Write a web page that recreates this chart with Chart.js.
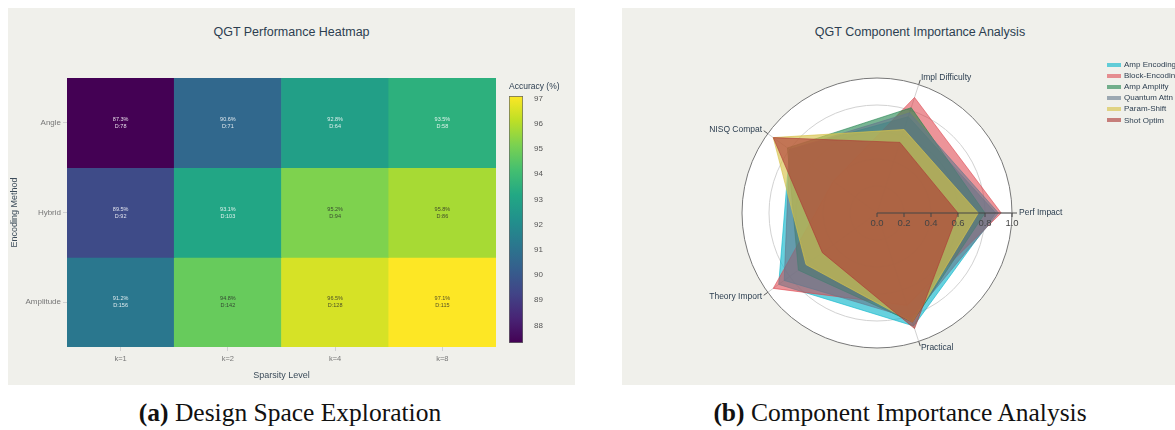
<!DOCTYPE html>
<html>
<head>
<meta charset="utf-8">
<script src="https://cdn.jsdelivr.net/npm/chart.js@4.4.0/dist/chart.umd.min.js"></script>
<style>
  html, body { margin: 0; padding: 0; background: #fff; overflow: hidden; }
  body { width: 1175px; height: 430px; position: relative; font-family: "Liberation Sans", Arial, sans-serif; }
  .panel { position: absolute; background: #f0f0eb; }
  #left { left: 8px; top: 8px; width: 567px; height: 377px; }
  #right { left: 622px; top: 8px; width: 596px; height: 377px; }
  canvas { position: absolute; }
  .ptitle { position: absolute; left: 0; right: 0; top: 16px; line-height: 16px; text-align: center; font-size: 12.5px; color: #2c3e50; white-space: nowrap; }
  .caption { position: absolute; top: 399px; line-height: 28px; font-family: "Liberation Serif", serif; font-size: 25.5px; color: #111; text-align: center; white-space: nowrap; }
  #legend { position: absolute; left: 485px; top: 51px; font-size: 8px; color: #2c3e50; }
  #legend .row { height: 11.1px; display: flex; align-items: center; white-space: nowrap; }
  #legend .sw { display: inline-block; width: 14px; height: 4px; margin-right: 3px; }
</style>
</head>
<body>
<div class="panel" id="left">
  <div class="ptitle">QGT Performance Heatmap</div>
  <canvas id="heatmap" width="567" height="377" style="left:0;top:0"></canvas>
  <canvas id="colorbar" width="70" height="275" style="left:497px;top:70px"></canvas>
</div>
<div class="panel" id="right">
  <div class="ptitle">QGT Component Importance Analysis</div>
  <canvas id="radar" width="596" height="377" style="left:0;top:0"></canvas>
  <div id="legend"></div>
</div>
<div class="caption" style="left:0;width:580px"><b>(a)</b> Design Space Exploration</div>
<div class="caption" style="left:600px;width:600px"><b>(b)</b> Component Importance Analysis</div>

<script>
// ---------- heatmap data ----------
const sparsity = ['k=1', 'k=2', 'k=4', 'k=8'];
const encodings = ['Angle', 'Hybrid', 'Amplitude'];
const accAngle = [87.3, 90.6, 92.8, 93.5];
const accHybrid = [89.5, 93.1, 95.2, 95.8];
const accAmplitude = [91.2, 94.8, 96.5, 97.1];
const depthAngle = [78, 71, 64, 58];
const depthHybrid = [92, 103, 94, 86];
const depthAmplitude = [156, 142, 128, 115];
const colorbarTicks = [88, 89, 90, 91, 92, 93, 94, 95, 96, 97];

// ---------- radar data ----------
const radarAxes = ['Perf Impact', 'Impl Difficulty', 'NISQ Compat', 'Theory Import', 'Practical'];
const seriesNames = ['Amp Encoding', 'Block-Encoding', 'Amp Amplify', 'Quantum Attn', 'Param-Shift', 'Shot Optim'];
const ampEncoding = [0.88, 0.75, 0.80, 0.90, 0.88];
const blockEncoding = [0.92, 0.90, 0.40, 0.95, 0.72];
const ampAmplify = [0.80, 0.82, 0.82, 0.72, 0.85];
const quantumAttn = [0.90, 0.78, 0.80, 0.85, 0.82];
const paramShift = [0.75, 0.65, 0.95, 0.65, 0.85];
const shotOptim = [0.60, 0.55, 0.95, 0.50, 0.90];
const radarTicks = [0, 0.2, 0.4, 0.6, 0.8, 1.0];

const seriesFill = [
  'rgba(20,185,205,0.65)',
  'rgba(220,60,70,0.55)',
  'rgba(30,130,75,0.6)',
  'rgba(100,120,140,0.6)',
  'rgba(215,195,75,0.65)',
  'rgba(173,56,54,0.62)'
];

const FONT = '"Liberation Sans", Arial, sans-serif';
Chart.defaults.font.family = FONT;
Chart.defaults.animation = false;

// viridis colormap
const viridisStops = ['#440154', '#482475', '#414487', '#355f8d', '#2a788e', '#21918c',
  '#22a884', '#44bf70', '#7ad151', '#bddf26', '#fde725'];
function hexRgb(h) { return [1, 3, 5].map(i => parseInt(h.substr(i, 2), 16)); }
function viridis(t) {
  t = Math.max(0, Math.min(1, t));
  const p = t * (viridisStops.length - 1);
  const i = Math.min(Math.floor(p), viridisStops.length - 2);
  const f = p - i;
  const a = hexRgb(viridisStops[i]), b = hexRgb(viridisStops[i + 1]);
  const c = a.map((v, k) => Math.round(v + (b[k] - v) * f));
  return `rgb(${c[0]},${c[1]},${c[2]})`;
}

const allAcc = accAngle.concat(accHybrid, accAmplitude);
const accMin = Math.min(...allAcc);
const accMax = Math.max(...allAcc);
const cellColor = v => viridis((v - accMin) / (accMax - accMin));

function rowDataset(label, acc, depth, row) {
  return {
    label: label,
    data: acc.map(() => [row, row + 1]),
    backgroundColor: acc.map(cellColor),
    borderWidth: 0,
    barPercentage: 1,
    categoryPercentage: 1,
    grouped: false,
    acc: acc,
    depth: depth
  };
}

// text inside each heatmap cell
const cellText = {
  id: 'cellText',
  afterDatasetsDraw(chart) {
    const ctx = chart.ctx;
    ctx.save();
    ctx.font = '5.5px ' + FONT;
    ctx.textAlign = 'center';
    ctx.textBaseline = 'middle';
    chart.data.datasets.forEach((ds, di) => {
      chart.getDatasetMeta(di).data.forEach((bar, j) => {
        const v = ds.acc[j];
        const y = (bar.y + bar.base) / 2;
        ctx.fillStyle = v < 94 ? 'rgba(255,255,255,0.85)' : 'rgba(40,40,40,0.8)';
        ctx.fillText(v.toFixed(1) + '%', bar.x, y - 3.5);
        ctx.fillText('D:' + ds.depth[j], bar.x, y + 3.5);
      });
    });
    ctx.restore();
  }
};

new Chart(document.getElementById('heatmap'), {
  type: 'bar',
  data: {
    labels: sparsity,
    datasets: [
      rowDataset('Angle', accAngle, depthAngle, 2),
      rowDataset('Hybrid', accHybrid, depthHybrid, 1),
      rowDataset('Amplitude', accAmplitude, depthAmplitude, 0)
    ]
  },
  options: {
    responsive: false,
    layout: { padding: { left: 0, right: 79, top: 70, bottom: 0 } },
    plugins: {
      legend: { display: false },
      tooltip: { enabled: false }
    },
    scales: {
      x: {
        offset: true,
        grid: { display: true, offset: false, drawOnChartArea: false, tickLength: 4, color: '#d0d0d0' },
        border: { display: false },
        ticks: { color: '#777', font: { size: 7.5 }, padding: 3 },
        title: { display: true, text: 'Sparsity Level', color: '#3c4c5a', font: { size: 9 }, padding: { top: 0, bottom: 4 } },
        afterFit: s => { s.height = 38; }
      },
      y: {
        min: 0, max: 3,
        afterBuildTicks: s => { s.ticks = encodings.map((_, i) => ({ value: encodings.length - i - 0.5 })); },
        grid: { display: true, drawOnChartArea: false, tickLength: 4, color: '#d0d0d0' },
        border: { display: false },
        ticks: {
          color: '#777', font: { size: 8 }, padding: 2,
          callback: v => encodings[encodings.length - 1 - Math.floor(v)]
        },
        title: { display: true, text: 'Encoding Method', color: '#3c4c5a', font: { size: 9 }, padding: { top: 1, bottom: 0 } },
        afterFit: s => { s.width = 59; }
      }
    }
  },
  plugins: [cellText]
});

// colorbar
new Chart(document.getElementById('colorbar'), {
  type: 'bar',
  data: {
    labels: [''],
    datasets: [{
      data: [[accMin, accMax]],
      backgroundColor: ctx => {
        const area = ctx.chart.chartArea;
        if (!area) return '#888';
        const g = ctx.chart.ctx.createLinearGradient(0, area.bottom, 0, area.top);
        viridisStops.forEach((c, i) => g.addColorStop(i / (viridisStops.length - 1), c));
        return g;
      },
      borderColor: '#666',
      borderWidth: 1,
      borderSkipped: false,
      barPercentage: 1,
      categoryPercentage: 1
    }]
  },
  options: {
    responsive: false,
    layout: { padding: { left: 4, right: 0, top: 0, bottom: 10 } },
    plugins: {
      legend: { display: false },
      tooltip: { enabled: false },
      title: {
        display: true, text: 'Accuracy (%)', align: 'start', color: '#2c3e50',
        font: { size: 8.5, weight: 'normal' }, padding: { top: 4, bottom: 3.8 }
      }
    },
    scales: {
      x: { display: false },
      y: {
        position: 'right', min: accMin, max: accMax,
        afterBuildTicks: s => { s.ticks = colorbarTicks.map(v => ({ value: v })); },
        grid: { display: false },
        border: { display: false },
        ticks: { color: '#555', font: { size: 8 }, padding: 3 },
        afterFit: s => { s.width = 52; }
      }
    }
  }
});

// ---------- radar ----------
// plotly-style layout: counter-clockwise from the right, chart.js goes clockwise
const order = [0, 4, 3, 2, 1];
const radarValues = [ampEncoding, blockEncoding, ampAmplify, quantumAttn, paramShift, shotOptim];

const radarDecor = {
  id: 'radarDecor',
  afterDatasetsDraw(chart) {
    const ctx = chart.ctx;
    const r = chart.scales.r;
    const R = r.drawingArea;
    ctx.save();
    // outer ticks + labels
    ctx.strokeStyle = '#555';
    ctx.lineWidth = 1;
    ctx.fillStyle = '#2c3e50';
    ctx.font = '8.5px ' + FONT;
    ctx.textBaseline = 'middle';
    chart.data.labels.forEach((lab, i) => {
      const a = r.getPointPosition(i, R);
      const b = r.getPointPosition(i, R + 5);
      ctx.beginPath(); ctx.moveTo(a.x, a.y); ctx.lineTo(b.x, b.y); ctx.stroke();
      const p = r.getPointPosition(i, R + 7);
      const dx = p.x - r.xCenter;
      ctx.textAlign = dx > 5 ? 'left' : (dx < -5 ? 'right' : 'center');
      ctx.fillText(lab, p.x, p.y);
    });
    // radial axis along the first spoke
    const y0 = r.yCenter;
    ctx.strokeStyle = '#444';
    ctx.beginPath(); ctx.moveTo(r.xCenter, y0); ctx.lineTo(r.xCenter + R, y0); ctx.stroke();
    ctx.fillStyle = '#444';
    ctx.font = '9.5px ' + FONT;
    ctx.textAlign = 'center';
    ctx.textBaseline = 'top';
    radarTicks.forEach(v => {
      const x = r.xCenter + r.getDistanceFromCenterForValue(v);
      ctx.beginPath(); ctx.moveTo(x, y0); ctx.lineTo(x, y0 + 4); ctx.stroke();
      ctx.fillText(v.toFixed(1), x, y0 + 6);
    });
    ctx.restore();
  }
};

new Chart(document.getElementById('radar'), {
  type: 'radar',
  data: {
    labels: order.map(i => radarAxes[i]),
    datasets: seriesNames.map((name, k) => ({
      label: name,
      data: order.map(i => radarValues[k][i]),
      backgroundColor: seriesFill[k],
      borderColor: seriesFill[k],
      borderWidth: 1,
      pointRadius: 0,
      fill: 'origin',
      order: seriesNames.length - k
    }))
  },
  options: {
    responsive: false,
    layout: { padding: { left: 120, right: 206, top: 70, bottom: 37 } },
    plugins: {
      legend: { display: false },
      tooltip: { enabled: false }
    },
    scales: {
      r: {
        min: 0, max: 1, startAngle: 90,
        backgroundColor: '#ffffff',
        afterBuildTicks: s => { s.ticks = radarTicks.map(v => ({ value: v })); },
        ticks: { display: false },
        pointLabels: { display: false },
        grid: { circular: true, lineWidth: 1, color: c => (c.tick && c.tick.value >= 0.999 ? '#777' : '#d2d2d2') },
        angleLines: { color: '#d2d2d2', lineWidth: 1 }
      }
    }
  },
  plugins: [radarDecor]
});

// legend
const legend = document.getElementById('legend');
seriesNames.forEach((name, k) => {
  const row = document.createElement('div');
  row.className = 'row';
  const sw = document.createElement('span');
  sw.className = 'sw';
  sw.style.background = seriesFill[k];
  row.appendChild(sw);
  row.appendChild(document.createTextNode(name));
  legend.appendChild(row);
});
</script>
</body>
</html>
